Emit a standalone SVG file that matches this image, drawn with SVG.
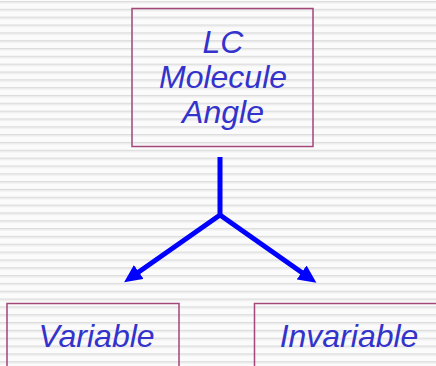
<svg xmlns="http://www.w3.org/2000/svg" width="436" height="366" viewBox="0 0 436 366">
<style>
.box{fill:none;stroke:#a3467a;stroke-width:1.5}
.lbl{font-family:"Liberation Sans",Arial,sans-serif;font-style:italic;font-size:32px;fill:#3333cc;text-anchor:middle}
.conn{fill:none;stroke:#0000ff;stroke-width:5;stroke-linejoin:miter}
</style>
<defs>
<pattern id="stripes" patternUnits="userSpaceOnUse" x="0" y="0" width="10" height="7.83">
<rect x="0" y="0" width="10" height="7.83" fill="#fbfbfb"/>
<rect x="0" y="1" width="10" height="1.4" fill="#dcdcdc"/>
<rect x="0" y="2.4" width="10" height="1" fill="#ececec"/>
</pattern>
<marker id="ah" markerUnits="userSpaceOnUse" markerWidth="20" markerHeight="18" refX="1" refY="8.5" orient="auto">
<path d="M0,0 L18,8.5 L0,17 z" fill="#0000ff"/>
</marker>
</defs>
<rect x="0" y="0" width="436" height="366" fill="url(#stripes)"/>
<g id="connectors">
<path class="conn" d="M220,157 V215 L138,272.5" marker-end="url(#ah)"/>
<path class="conn" d="M220,215 L302.5,273" marker-end="url(#ah)"/>
</g>
<g id="node-angle">
<rect class="box" x="132" y="8.5" width="181" height="138"/>
<text class="lbl" x="223" y="53">LC</text>
<text class="lbl" x="223" y="88">Molecule</text>
<text class="lbl" x="223" y="123">Angle</text>
</g>
<g id="node-variable">
<rect class="box" x="7" y="303.5" width="172" height="80"/>
<text class="lbl" x="96.5" y="347">Variable</text>
</g>
<g id="node-invariable">
<rect class="box" x="254.5" y="303.5" width="200" height="80"/>
<text class="lbl" x="349" y="347">Invariable</text>
</g>
</svg>
